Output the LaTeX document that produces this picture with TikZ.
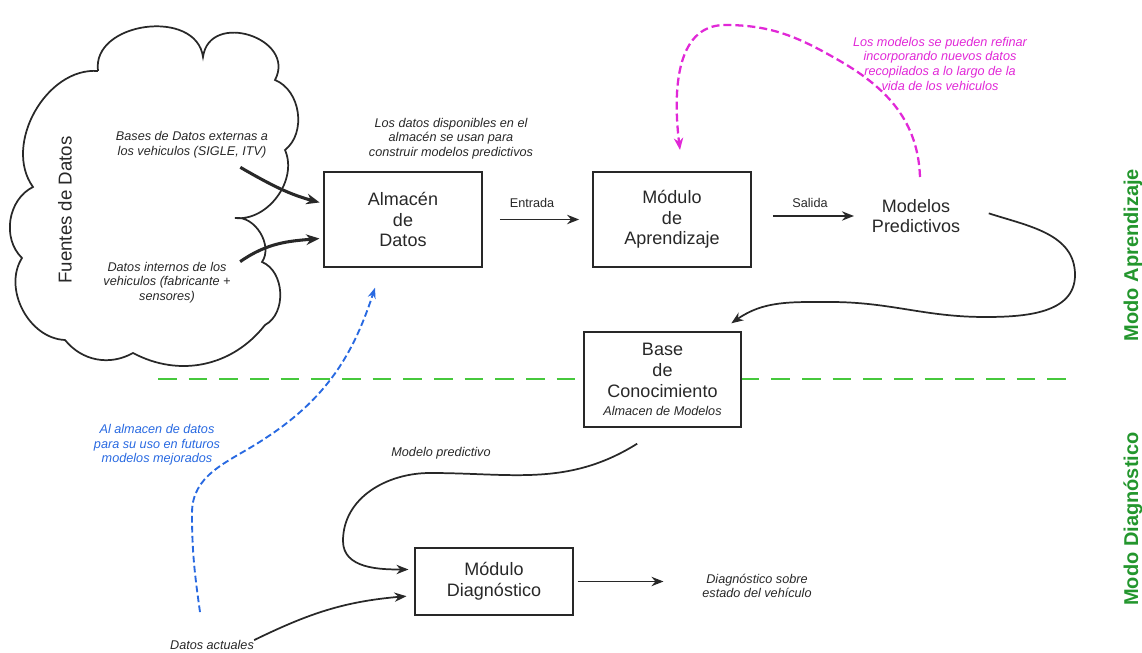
\documentclass[tikz,border=0pt]{standalone}
\usepackage{fontspec}
\setmainfont{Liberation Sans}
\usetikzlibrary{arrows.meta,positioning}
\definecolor{verdemodo}{RGB}{35,150,45}
\definecolor{verdelinea}{RGB}{70,200,60}
\definecolor{rosa}{RGB}{225,40,215}
\definecolor{azul}{RGB}{40,105,225}
\definecolor{tinta}{RGB}{40,40,40}

\begin{document}
\begin{tikzpicture}[x=0.75pt,y=0.75pt,
    caja/.style={draw=tinta,line width=1.3pt,fill=white,minimum width=118pt,minimum height=71pt,
                 align=center,text=tinta,font=\fontsize{13.5}{15.5}\selectfont,inner sep=2pt},
    nota/.style={align=center,text=tinta,font=\fontsize{9.5}{11}\selectfont\itshape,inner sep=0pt},
    flecha/.style={draw=tinta,line width=1.3pt,-{Stealth[length=9pt,width=7pt]}},
    gruesa/.style={draw=tinta,line width=2.3pt,-{Stealth[length=10pt,width=8pt]}},
    rosaflecha/.style={draw=rosa,line width=1.7pt,dash pattern=on 6pt off 3pt,-{Stealth[length=9pt,width=7pt]}},
    azulflecha/.style={draw=azul,line width=1.4pt,dash pattern=on 5pt off 2.5pt,-{Stealth[length=8pt,width=6pt]}},
    modo/.style={rotate=90,text=verdemodo,font=\bfseries\fontsize{15}{17}\selectfont}]

    \useasboundingbox (0,0) rectangle (1142,653);

    % Nube: fuentes de datos
    \draw[line width=1.3pt,tinta] (98,582) to[bend left=90,looseness=1.2] (203,596)
        to[bend left=100,looseness=1.6] (275,573) to[bend left=60] (285,503)
        to[bend left=60] (235,435) to[bend left=66] (262,391) to[bend left=65] (265,328)
        to[bend left=40] (133,300) to[bend left=40] (65,313) to[bend left=60] (22,395)
        to[bend left=55] (33,466) to[bend left=65] (98,582);

    % Separación entre modos
    \draw[verdelinea,line width=1.6pt,dash pattern=on 14pt off 9pt] (158,274) -- (1075,274);

    \node[rotate=90,text=tinta,font=\fontsize{14}{16}\selectfont] (fuentes) at (65,443) {Fuentes de Datos};
    \node[nota] (ext) at (192,508.5) {Bases de Datos externas a\\los vehiculos (SIGLE, ITV)};
    \node[nota] (int) at (167,370.5) {Datos internos de los\\vehiculos (fabricante +\\sensores)};

    \node[caja] (alm) at (403,433.5) {Almacén\\de\\Datos};
    \node[caja] (apr) at (672,433.5) {Módulo\\de\\Aprendizaje};
    \node[align=center,text=tinta,font=\fontsize{13.5}{15.5}\selectfont] (pred) at (916,437) {Modelos\\Predictivos};
    \node[caja] (base) at (662.5,273.5) {Base\\de\\Conocimiento\\[-2pt]{\fontsize{9.5}{11}\selectfont\itshape Almacen de Modelos}};
    \node[caja,minimum height=50pt] (diag) at (494,71.5) {Módulo\\Diagnóstico};

    \node[nota] (usan) at (451,514.5) {Los datos disponibles en el\\almacén se usan para\\construir modelos predictivos};
    \node[nota,text=rosa] (refinar) at (940,589.5) {Los modelos se pueden refinar\\incorporando nuevos datos\\recopilados a lo largo de la\\vida de los vehiculos};
    \node[nota,text=azul] (futuro) at (157,208) {Al almacen de datos\\para su uso en futuros\\modelos mejorados};
    \node[nota] (mpred) at (441,200) {Modelo predictivo};
    \node[nota] (sal) at (757,67) {Diagnóstico sobre\\estado del vehículo};
    \node[nota] (act) at (212,8) {Datos actuales};
    \node[text=tinta,font=\fontsize{9.5}{11}\selectfont,inner sep=0pt] (entrada) at (532,450) {Entrada};
    \node[text=tinta,font=\fontsize{9.5}{11}\selectfont,inner sep=0pt] (salida) at (810,450) {Salida};

    \node[modo] (mapr) at (1133,398) {Modo Aprendizaje};
    \node[modo] (mdiag) at (1133,134) {Modo Diagnóstico};

    % Modo aprendizaje
    \draw[gruesa,shorten >=3pt] ([xshift=-21pt,yshift=-7pt]ext.south east) to[out=-30,in=165] ([yshift=12pt]alm.west);
    \draw[gruesa,shorten >=3pt] ([xshift=7pt]int.north east) to[out=35,in=185] ([yshift=-14pt]alm.west);
    \draw[flecha,shorten <=13pt,shorten >=10pt] (alm) -- (apr);
    \draw[flecha,shorten <=16pt,shorten >=10pt] (apr.east |- pred.west) -- (pred.west);
    \draw[flecha] ([xshift=18pt,yshift=2pt]pred.east) to[out=-18,in=90] (1075,378)
        to[out=-90,in=0] (985,336) to[out=180,in=0] (830,351)
        to[out=180,in=35] ([xshift=-8pt,yshift=6pt]base.north east);
    \draw[rosaflecha] ([xshift=3pt,yshift=13pt]pred.north) to[out=92,in=-30] (840,592)
        to[out=150,in=0] (725,628) to[out=180,in=97] ([xshift=6pt,yshift=16pt]apr.north);

    % Modo diagnóstico
    \draw[flecha] ([xshift=-19pt,yshift=-12pt]base.south) to[out=212,in=0] (430,180)
        to[out=180,in=90] (343,112) to[out=-90,in=180] ([xshift=-4.5pt,yshift=9pt]diag.west);
    \draw[flecha] (act.north east) to[out=26,in=185] ([xshift=-6pt,yshift=-11pt]diag.west);
    \draw[flecha,shorten <=3pt,shorten >=29pt] (diag.east) -- (diag.east -| sal.west);
    \draw[azulflecha] ([xshift=-9pt,yshift=21pt]act.north) to[out=98,in=-90] (192,140)
        to[out=90,in=212] (258,210) to[out=32,in=-108] ([xshift=-21pt,yshift=-15pt]alm.south);
\end{tikzpicture}
\end{document}
